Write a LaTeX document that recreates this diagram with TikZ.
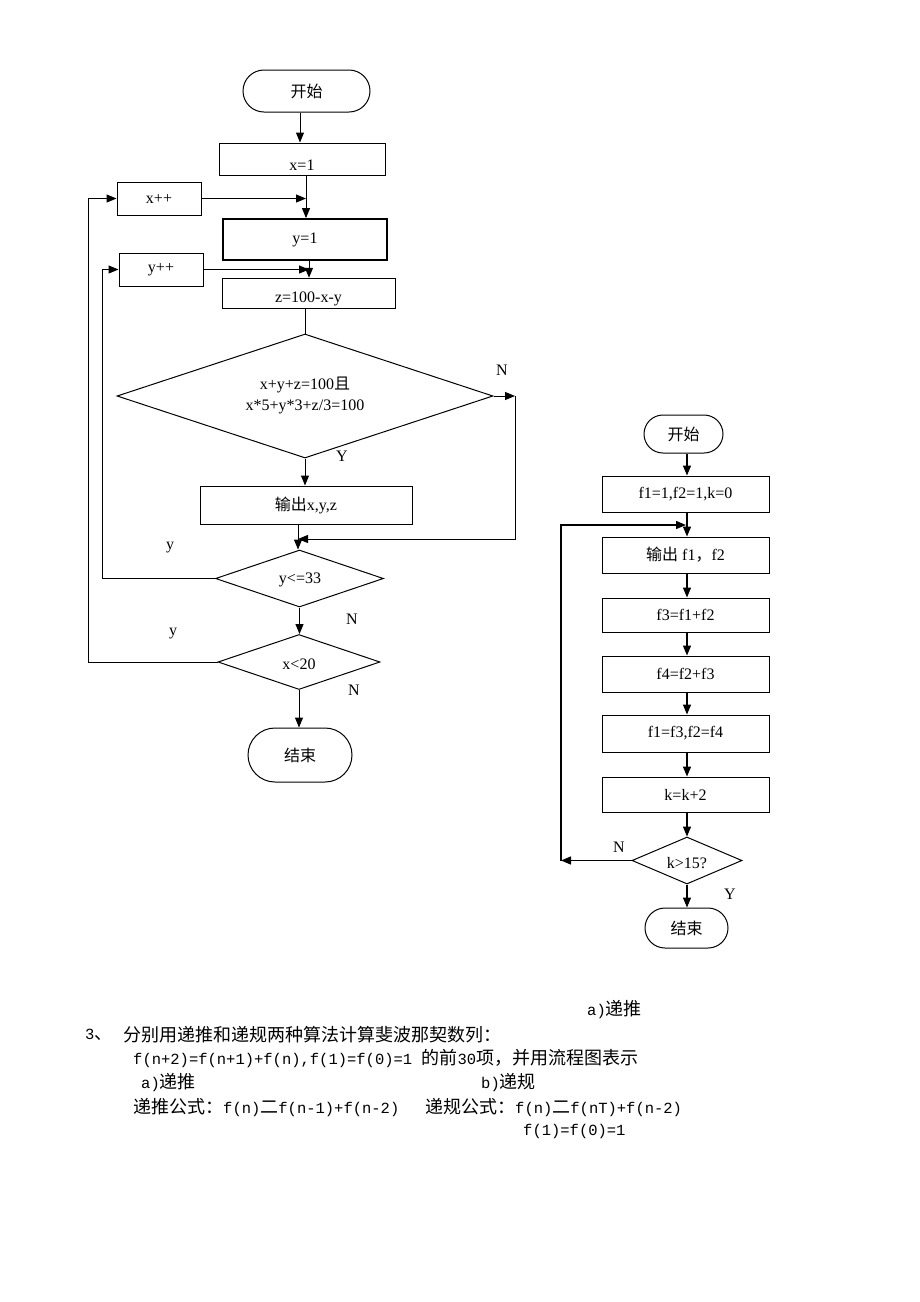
\documentclass[tikz,border=0pt]{standalone}
\usepackage{fontspec}
\setmainfont{Liberation Serif}
\newfontfamily\cjk{Noto Sans CJK SC}
\newfontfamily\monof{Liberation Mono}
\usetikzlibrary{arrows.meta,shapes.geometric}
\newcommand\zh[1]{{\cjk\fontsize{18}{20}\selectfont #1}}
\newcommand\zc[1]{{\cjk #1}}
\tikzset{
  box/.style={draw, rectangle, line width=1pt, inner sep=3pt, font=\fontsize{16}{19}\selectfont},
  term/.style={box},
  dia/.style={draw, diamond, line width=1pt, inner sep=0pt},
  arr/.style={line width=1pt, -{Triangle[length=10pt,width=8pt]}},
  ln/.style={line width=1pt},
  rarr/.style={line width=1.4pt, -{Triangle[length=10pt,width=8pt]}},
  lbl/.style={font=\fontsize{16}{19}\selectfont, inner sep=0pt},
  txt/.style={anchor=west, inner sep=0pt, font=\monof\fontsize{15.5}{18}\selectfont},
}
\begin{document}
\begin{tikzpicture}[x=1pt,y=-1pt]
\useasboundingbox (0,0) rectangle (920,1302);
\fill[white] (0,0) rectangle (920,1302);

% ---------- left flowchart ----------
\node[term, minimum width=127pt, minimum height=42pt, rounded corners=21pt] (start) at (306.5,91) {\zc{开始}};
\node[box, minimum width=166pt, minimum height=32pt, text height=22pt] (x1) at (302,159) {x=1};
\node[box, minimum width=84pt, minimum height=33pt] (xpp) at (159,198.5) {x++};
\node[box, line width=1.8pt, minimum width=164pt, minimum height=41pt] (y1) at (305,239.5) {y=1};
\node[box, minimum width=84pt, minimum height=33pt] (ypp) at (161,269.5) {y++};
\node[box, minimum width=173pt, minimum height=29pt, text height=21pt] (zb) at (308.5,293.5) {z=100-x-y};
\node[dia, minimum width=376pt, minimum height=124pt] (d1) at (305,396) {};
\node[lbl, align=center] (d1t) at (305,395) {x+y+z=100\zc{且}\\[2pt]x*5+y*3+z/3=100};
\node[box, minimum width=212pt, minimum height=38pt] (out) at (306,505) {\zc{输出}x,y,z};
\node[dia, minimum width=168pt, minimum height=57pt] (d2) at (299.5,578.5) {};
\node[lbl] (d2t) at (300,580) {y<=33};
\node[dia, minimum width=162pt, minimum height=55pt] (d3) at (299,662) {};
\node[lbl] (d3t) at (299,664) {x<20};
\node[term, minimum width=104pt, minimum height=54pt, rounded corners=27pt] (end) at (300,755) {\zc{结束}};

\coordinate (nr) at (515,396);
\coordinate (m1) at (298,539);
\coordinate (lp1) at (102,578.5);
\coordinate (lp2) at (88,662);
\coordinate (as) at ([xshift=-6.5pt]start.south);
\coordinate (ax) at ([xshift=4pt]x1.south);
\coordinate (ay) at ([xshift=4pt]y1.south);

\draw[arr] (as) -- (as |- x1.north);
\draw[arr] (ax) -- (ax |- y1.north);
\draw[arr] (xpp.east) -- (xpp.east -| ax);
\draw[arr] (ay) -- (ay |- zb.north);
\draw[arr] (ypp.east) -- (ypp.east -| ay);
\draw[ln] (zb.south -| d1.north) -- (d1.north);
\draw[arr] (d1.south) -- (d1.south |- out.north);
\draw[arr] (d1.east) -- (nr);
\draw[arr] (nr) |- (m1);
\draw[arr] (m1 |- out.south) -- (m1 |- d2.north);
\draw[arr] (d2.south) -- (d2.south |- d3.north);
\draw[arr] (d3.south) -- (d3.south |- end.north);
\draw[ln] (d2.west) -- (lp1);
\draw[arr] (lp1) |- (ypp.west);
\draw[ln] (d3.west) -- (lp2);
\draw[arr] (lp2) |- (xpp.west);

\node[lbl] (n1) at (502,370) {N};
\node[lbl] (y1l) at (342,456) {Y};
\node[lbl] (y2l) at (170,548) {y};
\node[lbl] (n2) at (352,619) {N};
\node[lbl] (y3l) at (173,634) {y};
\node[lbl] (n3) at (354,690) {N};

% ---------- right flowchart ----------
\node[term, minimum width=79pt, minimum height=38pt, rounded corners=19pt] (s2) at (683.5,434) {\zc{开始}};
\node[box, minimum width=167pt, minimum height=36pt] (r1) at (685.5,494) {f1=1,f2=1,k=0};
\node[box, minimum width=167pt, minimum height=36pt] (r2) at (685.5,555) {\zc{输出} f1\zc{，}f2};
\node[box, minimum width=167pt, minimum height=34pt] (r3) at (685.5,615) {f3=f1+f2};
\node[box, minimum width=167pt, minimum height=36pt] (r4) at (685.5,674) {f4=f2+f3};
\node[box, minimum width=167pt, minimum height=37pt] (r5) at (685.5,733.5) {f1=f3,f2=f4};
\node[box, minimum width=167pt, minimum height=35pt] (r6) at (685.5,794.5) {k=k+2};
\node[dia, minimum width=110pt, minimum height=47pt] (d4) at (687,860.5) {};
\node[lbl] (d4t) at (687,863) {k>15?};
\node[term, minimum width=83pt, minimum height=40pt, rounded corners=20pt] (e2) at (686.5,928) {\zc{结束}};

\coordinate (rl) at (561,860.5);
\coordinate (rj) at (686,525);

\draw[rarr] (s2.south -| d4.north) -- (r1.north -| d4.north);
\draw[rarr] (r1.south -| d4.north) -- (r2.north -| d4.north);
\draw[rarr] (r2.south -| d4.north) -- (r3.north -| d4.north);
\draw[rarr] (r3.south -| d4.north) -- (r4.north -| d4.north);
\draw[rarr] (r4.south -| d4.north) -- (r5.north -| d4.north);
\draw[rarr] (r5.south -| d4.north) -- (r6.north -| d4.north);
\draw[rarr] (r6.south -| d4.north) -- (d4.north);
\draw[rarr] (d4.south) -- (e2.north -| d4.south);
\draw[rarr] (d4.west) -- (rl);
\draw[rarr] (rl) |- (rj);

\node[lbl] (n4) at (619,847) {N};
\node[lbl] (y4) at (730,894) {Y};

% ---------- text below ----------
\node[txt] (ta) at (587,1010) {a)\zh{递推}};
\node[txt] (t3) at (85,1035) {3\zh{、}};
\node[txt] (tt) at (123,1035) {\zh{分别用递推和递规两种算法计算斐波那契数列：}};
\node[txt] (tf) at (133,1058) {f(n+2)=f(n+1)+f(n),f(1)=f(0)=1 \zh{的前}30\zh{项，并用流程图表示}};
\node[txt] (tra) at (141,1083) {a)\zh{递推}};
\node[txt] (trb) at (481,1083) {b)\zh{递规}};
\node[txt] (tga) at (133,1108) {\zh{递推公式：}f(n)\zh{二}f(n-1)+f(n-2)};
\node[txt] (tgb) at (425,1108) {\zh{递规公式：}f(n)\zh{二}f(nT)+f(n-2)};
\node[txt] (tgc) at (523,1131) {f(1)=f(0)=1};
\end{tikzpicture}
\end{document}
